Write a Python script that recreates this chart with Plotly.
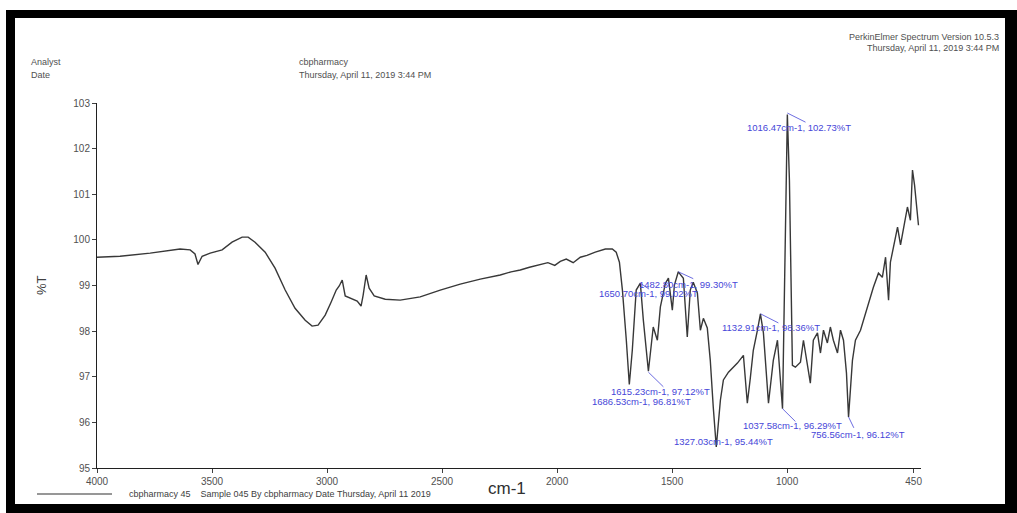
import plotly.graph_objects as go

# Spectrum data (wavenumber cm-1, %T)
wavenumber = [4000, 3900, 3769, 3682, 3639, 3595, 3574, 3561, 3543, 3508, 3456, 3413, 3369, 3343, 3313,
              3269, 3226, 3182, 3139, 3095, 3065, 3039, 3008, 2982, 2960, 2947, 2934, 2921, 2900, 2869,
              2852, 2843, 2830, 2817, 2795, 2747, 2682, 2595, 2508, 2421, 2334, 2247, 2200, 2160, 2120,
              2073, 2040, 2010, 1986, 1960, 1930, 1899, 1870, 1834, 1790, 1760, 1743, 1729,
              1716, 1699, 1686, 1673, 1656, 1638, 1625, 1603, 1582, 1564, 1551, 1529, 1516, 1499, 1490,
              1473, 1451, 1434, 1421, 1408, 1390, 1377, 1364, 1347, 1334, 1321, 1308, 1290, 1277, 1255,
              1238, 1216, 1190, 1173, 1160, 1147, 1129, 1116, 1103, 1081, 1060, 1042, 1020, 1007, 999,
              990, 977, 964, 942, 929, 912, 899, 886, 868, 855, 842, 825, 812, 799, 781, 768, 755, 742,
              733, 716, 703, 681, 659, 638, 625, 603, 586, 572, 559, 551, 538, 520, 507, 494, 477, 464,
              455, 446, 438, 429]
transmittance = [99.62, 99.64, 99.71, 99.78, 99.80, 99.78, 99.69, 99.46, 99.64, 99.71, 99.78, 99.95, 100.06, 100.06, 99.95,
                 99.73, 99.38, 98.90, 98.50, 98.24, 98.11, 98.13, 98.35, 98.64, 98.90, 98.99, 99.12, 98.77, 98.72, 98.66,
                 98.55, 98.79, 99.23, 98.94, 98.77, 98.70, 98.68, 98.75, 98.90, 99.03, 99.14, 99.23, 99.30, 99.34, 99.40,
                 99.45, 99.50, 99.44, 99.53, 99.58, 99.50, 99.62, 99.66, 99.73, 99.80, 99.80, 99.73, 99.51,
                 98.90, 97.80, 96.83, 97.58, 98.90, 99.05, 98.24, 97.12, 98.09, 97.80, 98.53, 99.05, 99.16, 98.46, 99.01,
                 99.30, 99.16, 97.87, 98.90, 99.07, 98.83, 98.02, 98.28, 98.07, 97.36, 96.33, 95.46, 96.49, 96.93, 97.10,
                 97.19, 97.30, 97.47, 96.42, 96.97, 97.58, 98.02, 98.38, 97.96, 96.42, 97.36, 97.80, 96.30, 99.78, 102.75,
                 101.31, 97.25, 97.21, 97.32, 97.80, 97.32, 96.86, 97.80, 97.96, 97.52, 98.02, 97.74, 98.09, 97.80, 97.52, 98.02, 97.80, 97.08,
                 96.12, 97.36, 97.80, 98.02, 98.39, 98.75, 98.96, 99.27, 99.18, 99.62, 98.68, 99.51, 99.84, 100.28, 99.89, 100.28, 100.72, 100.43,
                 101.53, 101.20, 100.76, 100.32]

# Peak labels (text, label anchor wavenumber, label anchor %T)
peak_text = ["1016.47cm-1, 102.73%T", "1482.80cm-1, 99.30%T", "1650.70cm-1, 99.02%T",
             "1132.91cm-1, 98.36%T", "1615.23cm-1, 97.12%T", "1686.53cm-1, 96.81%T",
             "1037.58cm-1, 96.29%T", "756.56cm-1, 96.12%T", "1327.03cm-1, 95.44%T"]
peak_label_x = [1181, 1651, 1825, 1290, 1773, 1856, 1199, 907, 1499]
peak_label_y = [102.47, 99.03, 98.83, 98.07, 96.68, 96.46, 95.94, 95.74, 95.59]

# leader lines (from peak to label)
leader_x0 = [999, 1473, 1638, 1116, 1603, 1020, 733]
leader_y0 = [102.78, 99.30, 99.05, 98.38, 97.10, 96.30, 96.12]
leader_x1 = [920, 1408, 1600, 1038, 1538, 964, 710]
leader_y1 = [102.58, 99.15, 98.92, 98.18, 96.78, 96.02, 95.88]

y_ticks = [95, 96, 97, 98, 99, 100, 101, 102, 103]
y_tick_text = ["95", "96", "97", "98", "99", "100", "101", "102", "103"]
x_ticks = [4000, 3500, 3000, 2500, 2000, 1500, 1000, 450]
x_tick_text = ["4000", "3500", "3000", "2500", "2000", "1500", "1000", "450"]

FONT = "Liberation Sans, Arial, sans-serif"
BLUE = "#4646d8"

L, R, T, B = 97, 96, 103, 45
W, H = 1017, 513
PW, PH = W - L - R, H - T - B


def px(x):
    return (x - L) / PW


def py(y):
    return (H - B - y) / PH


fig = go.Figure()
fig.add_trace(go.Scatter(x=wavenumber, y=transmittance, mode="lines",
                         line=dict(color="#383838", width=1.4), showlegend=False,
                         hoverinfo="skip"))

annotations = []
for t, xx, yy in zip(peak_text, peak_label_x, peak_label_y):
    annotations.append(dict(x=xx, y=yy, xref="x", yref="y", text=t, showarrow=False,
                            xanchor="left", yanchor="middle",
                            font=dict(family=FONT, size=9.5, color=BLUE)))

header = [
    ("Analyst", 29, 62, "left"),
    ("Date", 29, 75, "left"),
    ("cbpharmacy", 297, 62, "left"),
    ("Thursday, April 11, 2019 3:44 PM", 297, 75, "left"),
    ("PerkinElmer Spectrum Version 10.5.3", 1001, 37, "right"),
    ("Thursday, April 11, 2019 3:44 PM", 1001, 48, "right"),
]
for t, x, y, anc in header:
    annotations.append(dict(x=px(x), y=py(y), xref="paper", yref="paper", text=t,
                            showarrow=False, xanchor=anc, yanchor="middle",
                            font=dict(family=FONT, size=9, color="#505050")))

annotations.append(dict(x=px(41), y=py(285), xref="paper", yref="paper", text="%T",
                        showarrow=False, textangle=-90, xanchor="center", yanchor="middle",
                        font=dict(family=FONT, size=13, color="#404040")))
annotations.append(dict(x=px(507), y=py(488), xref="paper", yref="paper", text="cm-1",
                        showarrow=False, xanchor="center", yanchor="middle",
                        font=dict(family=FONT, size=17, color="#303030")))
annotations.append(dict(x=px(127), y=py(494), xref="paper", yref="paper",
                        text="cbpharmacy 45    Sample 045 By cbpharmacy Date Thursday, April 11 2019",
                        showarrow=False, xanchor="left", yanchor="middle",
                        font=dict(family=FONT, size=9, color="#404040")))

shapes = []
for x0, y0, x1, y1 in zip(leader_x0, leader_y0, leader_x1, leader_y1):
    shapes.append(dict(type="line", xref="x", yref="y", x0=x0, y0=y0, x1=x1, y1=y1,
                       line=dict(color=BLUE, width=0.8)))
# legend line
shapes.append(dict(type="line", xref="paper", yref="paper", x0=px(37), x1=px(112),
                   y0=py(494), y1=py(494), line=dict(color="#303030", width=1.2)))
# black frame
for (x0, y0, x1, y1) in [(6, 10, 1017, 18), (6, 10, 15, 513), (1005, 10, 1017, 513), (6, 504, 1017, 513)]:
    shapes.append(dict(type="rect", xref="paper", yref="paper", x0=px(x0), x1=px(x1),
                       y0=py(y0), y1=py(y1), fillcolor="black", line=dict(width=0),
                       layer="above"))

fig.update_layout(
    width=W, height=H,
    margin=dict(l=L, r=R, t=T, b=B),
    paper_bgcolor="white", plot_bgcolor="white",
    showlegend=False,
    annotations=annotations,
    shapes=shapes,
    xaxis=dict(range=[4000, 418], tickvals=x_ticks, ticktext=x_tick_text,
               showgrid=False, zeroline=False, showline=True, linecolor="#202020", linewidth=1,
               ticks="outside", ticklen=4, tickcolor="#404040",
               tickfont=dict(family=FONT, size=10, color="#505050")),
    yaxis=dict(range=[95, 103], tickvals=y_ticks, ticktext=y_tick_text,
               showgrid=False, zeroline=False, showline=True, linecolor="#202020", linewidth=1,
               ticks="outside", ticklen=4, tickcolor="#404040",
               tickfont=dict(family=FONT, size=10, color="#505050")),
)

fig.write_html("out.html", config={"displayModeBar": False},
               post_script="document.body.style.margin='0';document.body.style.overflow='hidden';")
